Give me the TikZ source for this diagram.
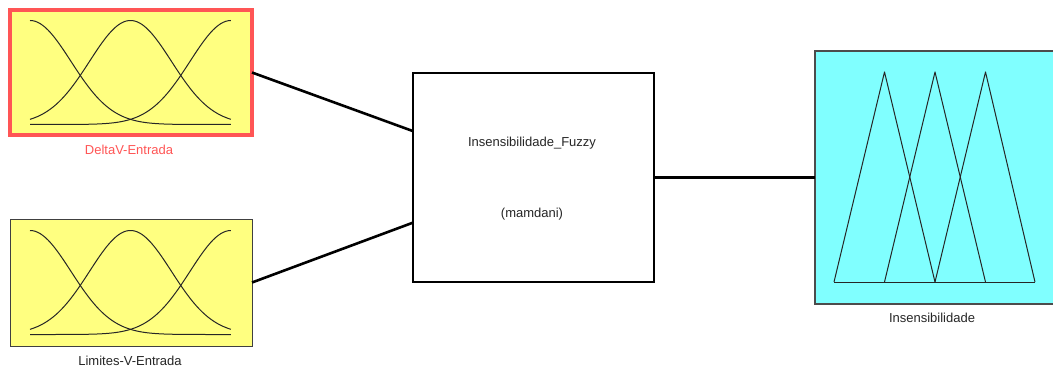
\documentclass[tikz,border=0pt]{standalone}
\usepackage{fontspec}
\setmainfont{Liberation Sans}
\usetikzlibrary{calc}
\definecolor{mfyellow}{HTML}{FFFF80}
\definecolor{mfcyan}{HTML}{80FFFF}
\definecolor{selred}{HTML}{FF5555}
\definecolor{inktext}{HTML}{262626}
\tikzset{
  inbox/.style={draw=black!75, line width=1pt, fill=mfyellow, minimum width=242pt, minimum height=127pt, inner sep=0pt, outer sep=0pt},
  selbox/.style={inbox, draw=selred, line width=4pt, minimum width=242pt, minimum height=125pt},
  fisbox/.style={draw=black, line width=2pt, fill=white, minimum width=241pt, minimum height=209pt, inner sep=0pt, outer sep=0pt},
  outbox/.style={draw=black!70, line width=1.2pt, fill=mfcyan, minimum width=245pt, minimum height=253pt, inner sep=0pt, outer sep=0pt},
  lbl/.style={font=\fontsize{13}{15}\selectfont, text=inktext, inner sep=0pt},
  wire/.style={draw=black, line width=2.6pt},
  mf/.style={draw=black!85, line width=1pt, line join=round}
}
\begin{document}
\begin{tikzpicture}[x=1pt, y=-1pt]
\useasboundingbox (0,0) rectangle (1053,369);
\clip (0,0) rectangle (1053,369);
\fill[white] (0,0) rectangle (1053,369);

% input variable blocks
\node[selbox] (in1) at (131,72.5) {};
\node[inbox] (in2) at (131,282.5) {};
% inference system block
\node[fisbox] (fis) at (533.5,177.5) {};
% output variable block
\node[outbox] (out) at (937.5,177.5) {};

% Gaussian membership functions of both inputs
\foreach \blk in {in1,in2}{
  \begin{scope}[shift={($(\blk.center)+(-101,-52)$)}]
    \foreach \c in {0,0.5,1}{
      \draw[mf] plot[domain=0:1, samples=80, smooth]
        ({201*\x}, {104-104*exp(-((\x-\c)*(\x-\c))/(2*0.204*0.204))});
    }
  \end{scope}
}

% triangular membership functions of the output
\begin{scope}[shift={(834,282)}]
  \draw[mf] (0,0) -- (201,0);
  \draw[mf] (0,0) -- (50.5,-210) -- (101,0);
  \draw[mf] (50.5,0) -- (101,-210) -- (151.5,0);
  \draw[mf] (101,0) -- (151.5,-210) -- (201,0);
\end{scope}

% connections between the blocks
\draw[wire] (in1.east) -- ($(fis.north west)!0.278!(fis.south west)$);
\draw[wire] (in2.east) -- ($(fis.north west)!0.716!(fis.south west)$);
\draw[wire] (fis.east) -- (out.west);

% labels
\node[lbl, text=selred] (l1) at (129,150) {DeltaV-Entrada};
\node[lbl] (l2) at (130,361) {Limites-V-Entrada};
\node[lbl] (t1) at (532,143) {Insensibilidade\_Fuzzy};
\node[lbl] (t2) at (532,214) {(mamdani)};
\node[lbl] (l3) at (932,318) {Insensibilidade};
\end{tikzpicture}
\end{document}
